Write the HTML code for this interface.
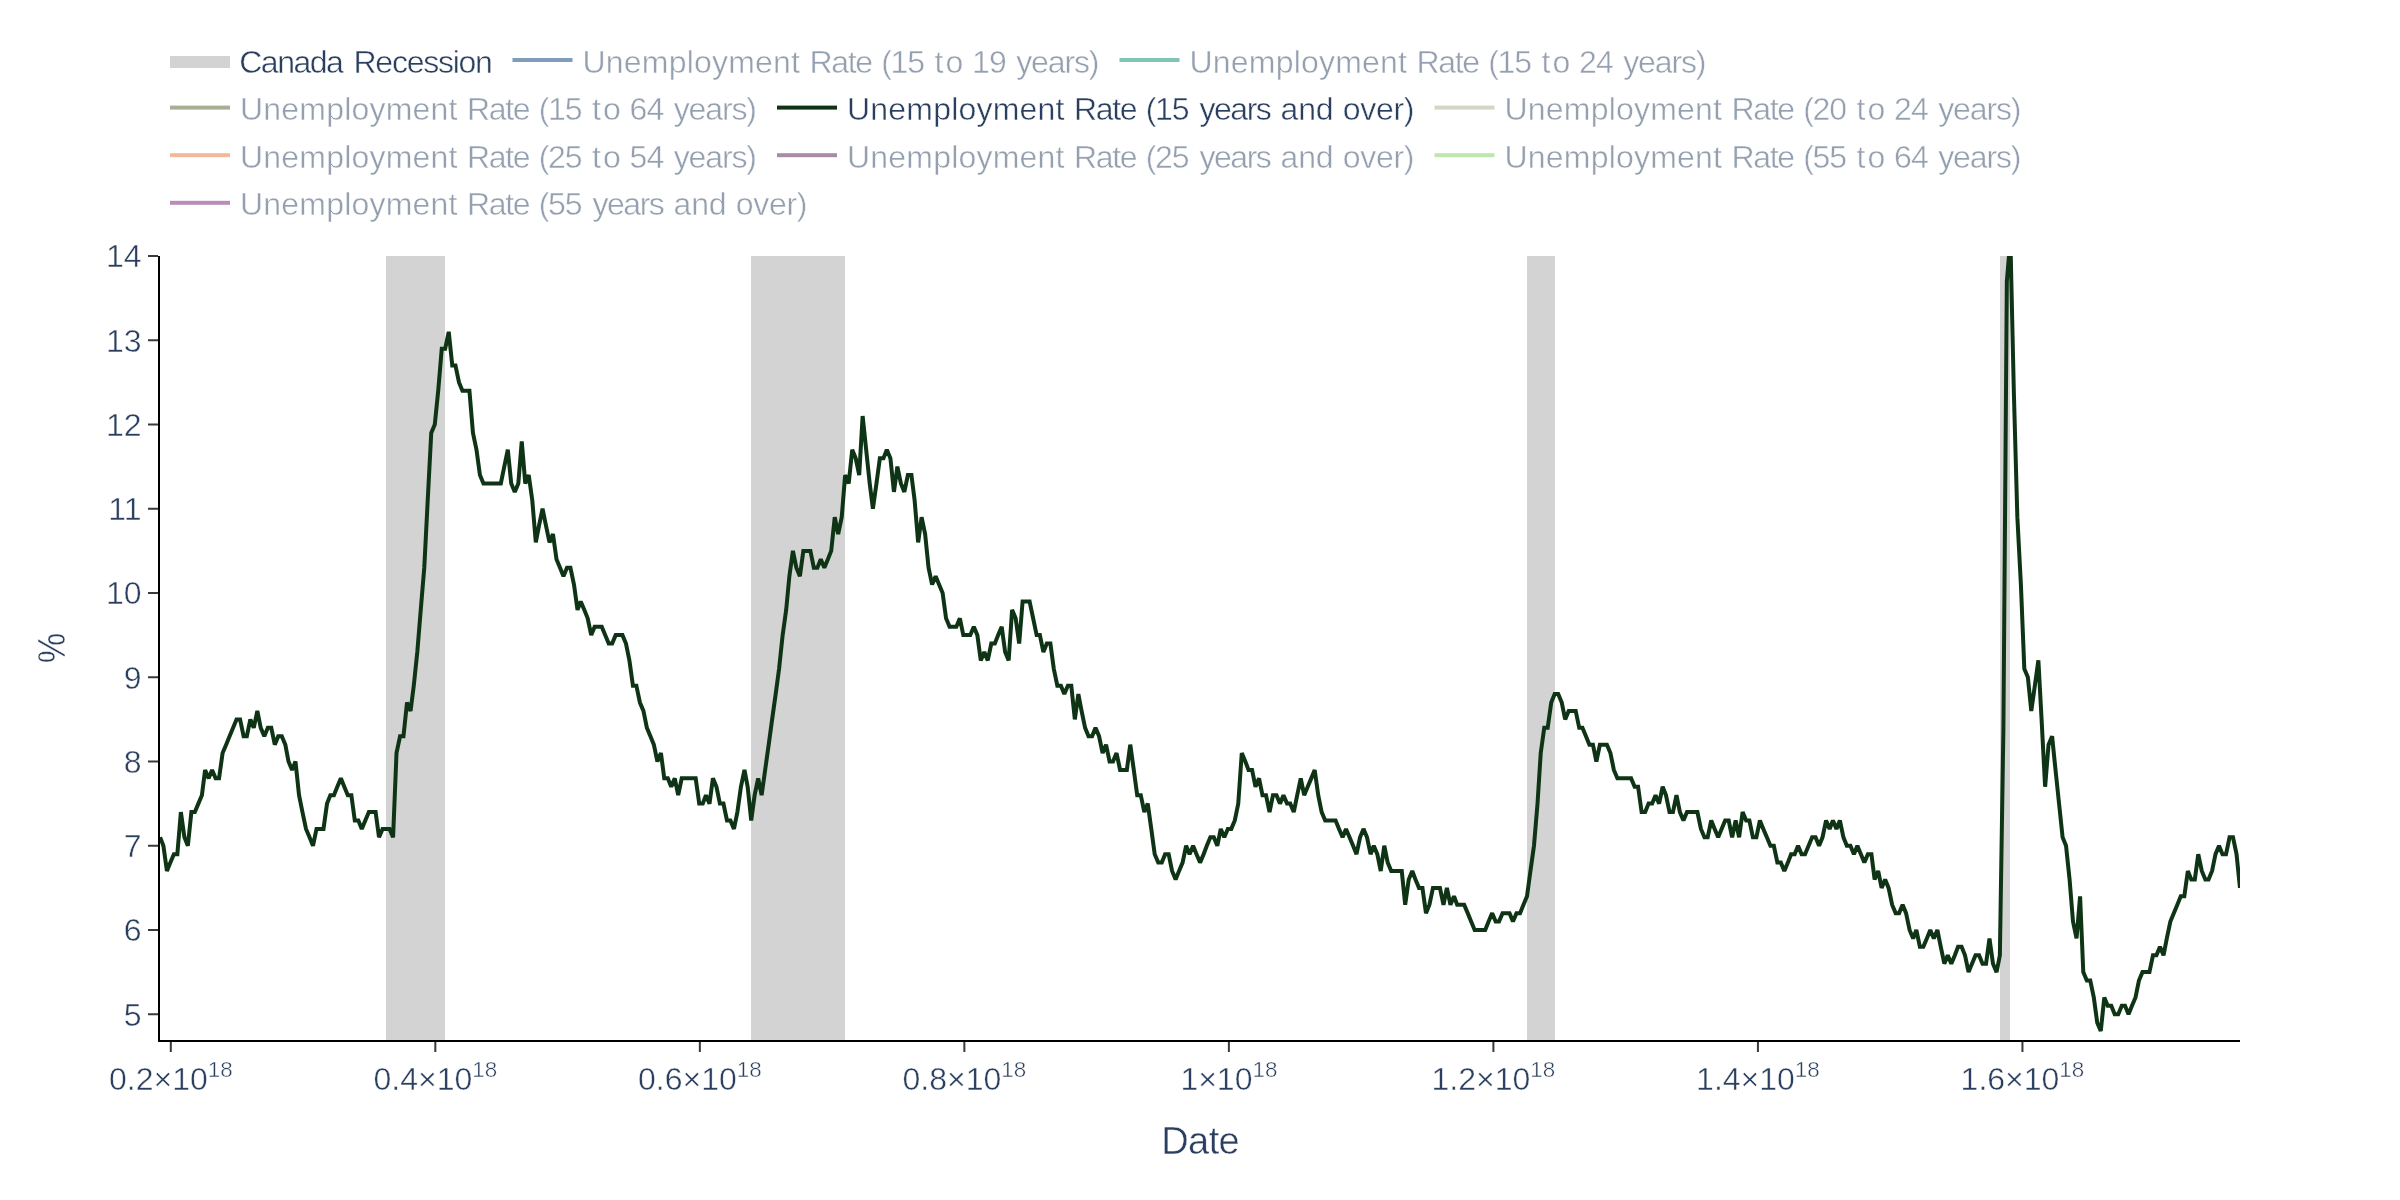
<!DOCTYPE html>
<html><head><meta charset="utf-8"><title>Unemployment Rate</title>
<style>
html,body{margin:0;padding:0;background:#fff;}
body{width:2400px;height:1200px;overflow:hidden;font-family:"Liberation Sans",sans-serif;}
svg{display:block}
text{font-family:"Liberation Sans",sans-serif;stroke:#fff;stroke-width:0.45px;}
svg{will-change:transform;}
</style></head><body>
<svg width="2400" height="1200" viewBox="0 0 2400 1200">
<rect x="0" y="0" width="2400" height="1200" fill="#ffffff"/>
<defs><clipPath id="plotclip"><rect x="160" y="256" width="2080" height="784"/></clipPath></defs>

<g clip-path="url(#plotclip)">
<rect x="386" y="256" width="59" height="784" fill="#d3d3d3"/>
<rect x="751" y="256" width="94" height="784" fill="#d3d3d3"/>
<rect x="1527" y="256" width="28" height="784" fill="#d3d3d3"/>
<rect x="2000" y="256" width="10" height="784" fill="#d3d3d3"/>
<path d="M160.08,837.33L163.39,845.75L166.94,871.02L170.36,862.60L173.91,854.17L177.33,854.17L180.88,812.05L184.42,837.33L187.85,845.75L191.39,812.05L194.82,812.05L198.36,803.62L201.90,795.20L205.10,769.92L208.65,778.35L212.07,769.92L215.62,778.35L219.04,778.35L222.59,753.08L226.13,744.65L229.56,736.22L233.10,727.80L236.53,719.38L240.07,719.38L243.61,736.22L246.81,736.22L250.35,719.38L253.78,727.80L257.33,710.95L260.75,727.80L264.30,736.22L267.84,727.80L271.27,727.80L274.81,744.65L278.24,736.22L281.78,736.22L285.32,744.65L288.52,761.50L292.06,769.92L295.49,761.50L299.04,795.20L302.46,812.05L306.01,828.90L309.55,837.33L312.98,845.75L316.52,828.90L319.95,828.90L323.49,828.90L327.03,803.62L330.35,795.20L333.89,795.20L337.32,786.77L340.86,778.35L344.29,786.77L347.83,795.20L351.37,795.20L354.80,820.48L358.34,820.48L361.77,828.90L365.31,820.48L368.86,812.05L372.06,812.05L375.60,812.05L379.03,837.33L382.57,828.90L386.00,828.90L389.54,828.90L393.08,837.33L396.51,753.08L400.05,736.22L403.48,736.22L407.02,702.53L410.57,710.95L413.76,685.67L417.31,651.97L420.74,609.85L424.28,567.72L427.71,500.33L431.25,432.92L434.79,424.50L438.22,390.80L441.76,348.67L445.19,348.67L448.73,331.83L452.27,365.53L455.47,365.53L459.02,382.38L462.44,390.80L465.99,390.80L469.42,390.80L472.96,432.92L476.50,449.78L479.93,475.05L483.47,483.47L486.90,483.47L490.44,483.47L493.98,483.47L497.30,483.47L500.84,483.47L504.27,466.62L507.81,449.78L511.24,483.47L514.78,491.90L518.32,483.47L521.75,441.35L525.29,483.47L528.72,475.05L532.27,500.33L535.81,542.45L539.01,525.60L542.55,508.75L545.98,525.60L549.52,542.45L552.95,534.03L556.49,559.30L560.03,567.72L563.46,576.15L567.00,567.72L570.43,567.72L573.98,584.58L577.52,609.85L580.72,601.42L584.26,609.85L587.69,618.28L591.23,635.12L594.66,626.70L598.20,626.70L601.74,626.70L605.17,635.12L608.71,643.55L612.14,643.55L615.68,635.12L619.23,635.12L622.43,635.12L625.97,643.55L629.40,660.40L632.94,685.67L636.37,685.67L639.91,702.53L643.45,710.95L646.88,727.80L650.42,736.22L653.85,744.65L657.39,761.50L660.94,753.08L664.25,778.35L667.79,778.35L671.22,786.77L674.76,778.35L678.19,795.20L681.73,778.35L685.28,778.35L688.70,778.35L692.25,778.35L695.68,778.35L699.22,803.62L702.76,803.62L705.96,795.20L709.50,803.62L712.93,778.35L716.47,786.77L719.90,803.62L723.44,803.62L726.99,820.48L730.41,820.48L733.96,828.90L737.38,812.05L740.93,786.77L744.47,769.92L747.67,786.77L751.21,820.48L754.64,795.20L758.18,778.35L761.61,795.20L765.15,769.92L768.70,744.65L772.12,719.38L775.67,694.10L779.09,668.83L782.64,635.12L786.18,609.85L789.38,576.15L792.92,550.88L796.35,567.72L799.89,576.15L803.32,550.88L806.86,550.88L810.41,550.88L813.83,567.72L817.38,567.72L820.80,559.30L824.35,567.72L827.89,559.30L831.20,550.88L834.75,517.17L838.17,534.03L841.72,517.17L845.14,475.05L848.69,483.47L852.23,449.78L855.66,458.20L859.20,475.05L862.63,416.08L866.17,449.78L869.71,483.47L872.91,508.75L876.45,483.47L879.88,458.20L883.43,458.20L886.85,449.78L890.40,458.20L893.94,491.90L897.37,466.62L900.91,483.47L904.34,491.90L907.88,475.05L911.42,475.05L914.62,500.33L918.16,542.45L921.59,517.17L925.13,534.03L928.56,567.72L932.11,584.58L935.65,576.15L939.08,584.58L942.62,593.00L946.05,618.28L949.59,626.70L953.13,626.70L956.33,626.70L959.87,618.28L963.30,635.12L966.84,635.12L970.27,635.12L973.82,626.70L977.36,635.12L980.79,660.40L984.33,651.97L987.76,660.40L991.30,643.55L994.84,643.55L998.16,635.12L1001.70,626.70L1005.13,651.97L1008.67,660.40L1012.10,609.85L1015.64,618.28L1019.18,643.55L1022.61,601.42L1026.15,601.42L1029.58,601.42L1033.12,618.28L1036.66,635.12L1039.86,635.12L1043.41,651.97L1046.84,643.55L1050.38,643.55L1053.81,668.83L1057.35,685.67L1060.89,685.67L1064.32,694.10L1067.86,685.67L1071.29,685.67L1074.83,719.38L1078.37,694.10L1081.57,710.95L1085.12,727.80L1088.54,736.22L1092.09,736.22L1095.52,727.80L1099.06,736.22L1102.60,753.08L1106.03,744.65L1109.57,761.50L1113.00,761.50L1116.54,753.08L1120.08,769.92L1123.28,769.92L1126.83,769.92L1130.25,744.65L1133.80,769.92L1137.22,795.20L1140.77,795.20L1144.31,812.05L1147.74,803.62L1151.28,828.90L1154.71,854.17L1158.25,862.60L1161.79,862.60L1165.11,854.17L1168.65,854.17L1172.08,871.02L1175.62,879.45L1179.05,871.02L1182.59,862.60L1186.13,845.75L1189.56,854.17L1193.10,845.75L1196.53,854.17L1200.07,862.60L1203.62,854.17L1206.82,845.75L1210.36,837.33L1213.79,837.33L1217.33,845.75L1220.76,828.90L1224.30,837.33L1227.84,828.90L1231.27,828.90L1234.81,820.48L1238.24,803.62L1241.78,753.08L1245.33,761.50L1248.53,769.92L1252.07,769.92L1255.50,786.77L1259.04,778.35L1262.47,795.20L1266.01,795.20L1269.55,812.05L1272.98,795.20L1276.52,795.20L1279.95,803.62L1283.49,795.20L1287.04,803.62L1290.24,803.62L1293.78,812.05L1297.21,795.20L1300.75,778.35L1304.18,795.20L1307.72,786.77L1311.26,778.35L1314.69,769.92L1318.23,795.20L1321.66,812.05L1325.20,820.48L1328.75,820.48L1332.06,820.48L1335.60,820.48L1339.03,828.90L1342.57,837.33L1346.00,828.90L1349.54,837.33L1353.09,845.75L1356.51,854.17L1360.06,837.33L1363.48,828.90L1367.03,837.33L1370.57,854.17L1373.77,845.75L1377.31,854.17L1380.74,871.02L1384.28,845.75L1387.71,862.60L1391.25,871.02L1394.80,871.02L1398.22,871.02L1401.77,871.02L1405.19,904.73L1408.74,879.45L1412.28,871.02L1415.48,879.45L1419.02,887.88L1422.45,887.88L1425.99,913.15L1429.42,904.73L1432.96,887.88L1436.50,887.88L1439.93,887.88L1443.48,904.73L1446.90,887.88L1450.45,904.73L1453.99,896.30L1457.19,904.73L1460.73,904.73L1464.16,904.73L1467.70,913.15L1471.13,921.58L1474.67,930.00L1478.21,930.00L1481.64,930.00L1485.19,930.00L1488.61,921.58L1492.16,913.15L1495.70,921.58L1499.01,921.58L1502.55,913.15L1505.98,913.15L1509.53,913.15L1512.95,921.58L1516.50,913.15L1520.04,913.15L1523.47,904.73L1527.01,896.30L1530.44,871.02L1533.98,845.75L1537.52,803.62L1540.72,753.08L1544.26,727.80L1547.69,727.80L1551.23,702.53L1554.66,694.10L1558.21,694.10L1561.75,702.53L1565.18,719.38L1568.72,710.95L1572.15,710.95L1575.69,710.95L1579.23,727.80L1582.43,727.80L1585.97,736.22L1589.40,744.65L1592.94,744.65L1596.37,761.50L1599.91,744.65L1603.46,744.65L1606.89,744.65L1610.43,753.08L1613.86,769.92L1617.40,778.35L1620.94,778.35L1624.14,778.35L1627.68,778.35L1631.11,778.35L1634.65,786.77L1638.08,786.77L1641.62,812.05L1645.17,812.05L1648.59,803.62L1652.14,803.62L1655.57,795.20L1659.11,803.62L1662.65,786.77L1665.96,795.20L1669.51,812.05L1672.94,812.05L1676.48,795.20L1679.91,812.05L1683.45,820.48L1686.99,812.05L1690.42,812.05L1693.96,812.05L1697.39,812.05L1700.93,828.90L1704.47,837.33L1707.67,837.33L1711.22,820.48L1714.64,828.90L1718.19,837.33L1721.62,828.90L1725.16,820.48L1728.70,820.48L1732.13,837.33L1735.67,820.48L1739.10,837.33L1742.64,812.05L1746.18,820.48L1749.38,820.48L1752.93,837.33L1756.35,837.33L1759.90,820.48L1763.32,828.90L1766.87,837.33L1770.41,845.75L1773.84,845.75L1777.38,862.60L1780.81,862.60L1784.35,871.02L1787.89,862.60L1791.09,854.17L1794.64,854.17L1798.06,845.75L1801.61,854.17L1805.03,854.17L1808.58,845.75L1812.12,837.33L1815.55,837.33L1819.09,845.75L1822.52,837.33L1826.06,820.48L1829.60,828.90L1832.92,820.48L1836.46,828.90L1839.89,820.48L1843.43,837.33L1846.86,845.75L1850.40,845.75L1853.94,854.17L1857.37,845.75L1860.91,854.17L1864.34,862.60L1867.88,854.17L1871.43,854.17L1874.63,879.45L1878.17,871.02L1881.60,887.88L1885.14,879.45L1888.57,887.88L1892.11,904.73L1895.65,913.15L1899.08,913.15L1902.62,904.73L1906.05,913.15L1909.59,930.00L1913.14,938.42L1916.34,930.00L1919.88,946.85L1923.31,946.85L1926.85,938.42L1930.28,930.00L1933.82,938.42L1937.36,930.00L1940.79,946.85L1944.33,963.70L1947.76,955.28L1951.30,963.70L1954.85,955.28L1958.05,946.85L1961.59,946.85L1965.02,955.28L1968.56,972.12L1971.99,963.70L1975.53,955.28L1979.07,955.28L1982.50,963.70L1986.04,963.70L1989.47,938.42L1993.01,963.70L1996.56,972.12L1999.87,955.28L2003.41,727.80L2006.84,281.28L2010.38,239.15L2013.81,390.80L2017.35,517.17L2020.90,584.58L2024.32,668.83L2027.87,677.25L2031.29,710.95L2034.84,685.67L2038.38,660.40L2041.58,719.38L2045.12,786.77L2048.55,744.65L2052.09,736.22L2055.52,769.92L2059.06,803.62L2062.60,837.33L2066.03,845.75L2069.58,879.45L2073.00,921.58L2076.55,938.42L2080.09,896.30L2083.29,972.12L2086.83,980.55L2090.26,980.55L2093.80,997.40L2097.23,1022.67L2100.77,1031.10L2104.31,997.40L2107.74,1005.83L2111.28,1005.83L2114.71,1014.25L2118.26,1014.25L2121.80,1005.83L2125.00,1005.83L2128.54,1014.25L2131.97,1005.83L2135.51,997.40L2138.94,980.55L2142.48,972.12L2146.02,972.12L2149.45,972.12L2152.99,955.28L2156.42,955.28L2159.97,946.85L2163.51,955.28L2166.82,938.42L2170.36,921.58L2173.79,913.15L2177.33,904.73L2180.76,896.30L2184.31,896.30L2187.85,871.02L2191.28,879.45L2194.82,879.45L2198.25,854.17L2201.79,871.02L2205.33,879.45L2208.53,879.45L2212.07,871.02L2215.50,854.17L2219.04,845.75L2222.47,854.17L2226.01,854.17L2229.56,837.33L2232.99,837.33L2236.53,854.17L2239.96,887.88" fill="none" stroke="#0f3415" stroke-width="4" stroke-linejoin="miter" stroke-miterlimit="2"/>
</g>
<rect x="158" y="256" width="2" height="786" fill="#000"/>
<rect x="158" y="1040" width="2082" height="2" fill="#000"/>
<rect x="148" y="1013.25" width="10" height="2" fill="#3a3a3a"/>
<text x="141.5" y="1025.55" font-size="32" fill="#2a3f5f" text-anchor="end">5</text>
<rect x="148" y="929.00" width="10" height="2" fill="#3a3a3a"/>
<text x="141.5" y="941.30" font-size="32" fill="#2a3f5f" text-anchor="end">6</text>
<rect x="148" y="844.75" width="10" height="2" fill="#3a3a3a"/>
<text x="141.5" y="857.05" font-size="32" fill="#2a3f5f" text-anchor="end">7</text>
<rect x="148" y="760.50" width="10" height="2" fill="#3a3a3a"/>
<text x="141.5" y="772.80" font-size="32" fill="#2a3f5f" text-anchor="end">8</text>
<rect x="148" y="676.25" width="10" height="2" fill="#3a3a3a"/>
<text x="141.5" y="688.55" font-size="32" fill="#2a3f5f" text-anchor="end">9</text>
<rect x="148" y="592.00" width="10" height="2" fill="#3a3a3a"/>
<text x="141.5" y="604.30" font-size="32" fill="#2a3f5f" text-anchor="end">10</text>
<rect x="148" y="507.75" width="10" height="2" fill="#3a3a3a"/>
<text x="141.5" y="520.05" font-size="32" fill="#2a3f5f" text-anchor="end">11</text>
<rect x="148" y="423.50" width="10" height="2" fill="#3a3a3a"/>
<text x="141.5" y="435.80" font-size="32" fill="#2a3f5f" text-anchor="end">12</text>
<rect x="148" y="339.25" width="10" height="2" fill="#3a3a3a"/>
<text x="141.5" y="351.55" font-size="32" fill="#2a3f5f" text-anchor="end">13</text>
<rect x="148" y="255.00" width="10" height="2" fill="#3a3a3a"/>
<text x="141.5" y="267.30" font-size="32" fill="#2a3f5f" text-anchor="end">14</text>
<rect x="169.80" y="1042" width="2" height="10" fill="#3a3a3a"/>
<text x="170.80" y="1089.7" font-size="32" fill="#2a3f5f" text-anchor="middle">0.2×10<tspan font-size="22.4" dy="-12.5">18</tspan></text>
<rect x="434.32" y="1042" width="2" height="10" fill="#3a3a3a"/>
<text x="435.32" y="1089.7" font-size="32" fill="#2a3f5f" text-anchor="middle">0.4×10<tspan font-size="22.4" dy="-12.5">18</tspan></text>
<rect x="698.84" y="1042" width="2" height="10" fill="#3a3a3a"/>
<text x="699.84" y="1089.7" font-size="32" fill="#2a3f5f" text-anchor="middle">0.6×10<tspan font-size="22.4" dy="-12.5">18</tspan></text>
<rect x="963.36" y="1042" width="2" height="10" fill="#3a3a3a"/>
<text x="964.36" y="1089.7" font-size="32" fill="#2a3f5f" text-anchor="middle">0.8×10<tspan font-size="22.4" dy="-12.5">18</tspan></text>
<rect x="1227.88" y="1042" width="2" height="10" fill="#3a3a3a"/>
<text x="1228.88" y="1089.7" font-size="32" fill="#2a3f5f" text-anchor="middle">1×10<tspan font-size="22.4" dy="-12.5">18</tspan></text>
<rect x="1492.40" y="1042" width="2" height="10" fill="#3a3a3a"/>
<text x="1493.40" y="1089.7" font-size="32" fill="#2a3f5f" text-anchor="middle">1.2×10<tspan font-size="22.4" dy="-12.5">18</tspan></text>
<rect x="1756.92" y="1042" width="2" height="10" fill="#3a3a3a"/>
<text x="1757.92" y="1089.7" font-size="32" fill="#2a3f5f" text-anchor="middle">1.4×10<tspan font-size="22.4" dy="-12.5">18</tspan></text>
<rect x="2021.44" y="1042" width="2" height="10" fill="#3a3a3a"/>
<text x="2022.44" y="1089.7" font-size="32" fill="#2a3f5f" text-anchor="middle">1.6×10<tspan font-size="22.4" dy="-12.5">18</tspan></text>
<text x="1200.2" y="1153.7" font-size="38" fill="#2a3f5f" text-anchor="middle" style="letter-spacing:-0.6px">Date</text>
<text transform="translate(65.3,648) rotate(-90) scale(0.9,1.03)" font-size="38" fill="#2a3f5f" text-anchor="middle">%</text>
<rect x="170" y="56" width="60" height="12" fill="#d3d3d3"/>
<text x="239.25" y="72.5" font-size="32" fill="#2a3f5f" style="letter-spacing:-1.500px">Canada</text>
<text x="353.50" y="72.5" font-size="32" fill="#2a3f5f" style="letter-spacing:-1.250px">Recession</text>
<rect x="512.5" y="58" width="60" height="4" fill="#7f9cbb"/>
<text x="582.50" y="72.5" font-size="32" fill="#949faf" style="letter-spacing:0.205px">Unemployment</text>
<text x="809.50" y="72.5" font-size="32" fill="#949faf" style="letter-spacing:-1.333px">Rate</text>
<text x="881.20" y="72.5" font-size="32" fill="#949faf" style="letter-spacing:-1.250px">(15</text>
<text x="934.60" y="72.5" font-size="32" fill="#949faf" style="letter-spacing:1.900px">to</text>
<text x="972.10" y="72.5" font-size="32" fill="#949faf" style="letter-spacing:-0.850px">19</text>
<text x="1016.25" y="72.5" font-size="32" fill="#949faf" style="letter-spacing:-1.150px">years)</text>
<rect x="1119.5" y="58" width="60" height="4" fill="#80c4b5"/>
<text x="1189.50" y="72.5" font-size="32" fill="#949faf" style="letter-spacing:0.205px">Unemployment</text>
<text x="1416.50" y="72.5" font-size="32" fill="#949faf" style="letter-spacing:-1.333px">Rate</text>
<text x="1488.20" y="72.5" font-size="32" fill="#949faf" style="letter-spacing:-1.250px">(15</text>
<text x="1541.60" y="72.5" font-size="32" fill="#949faf" style="letter-spacing:1.900px">to</text>
<text x="1579.10" y="72.5" font-size="32" fill="#949faf" style="letter-spacing:-0.850px">24</text>
<text x="1623.25" y="72.5" font-size="32" fill="#949faf" style="letter-spacing:-1.150px">years)</text>
<rect x="170" y="105.6" width="60" height="4" fill="#a7af93"/>
<text x="240.00" y="120.0" font-size="32" fill="#949faf" style="letter-spacing:0.205px">Unemployment</text>
<text x="467.00" y="120.0" font-size="32" fill="#949faf" style="letter-spacing:-1.333px">Rate</text>
<text x="538.70" y="120.0" font-size="32" fill="#949faf" style="letter-spacing:-1.250px">(15</text>
<text x="592.10" y="120.0" font-size="32" fill="#949faf" style="letter-spacing:1.900px">to</text>
<text x="629.60" y="120.0" font-size="32" fill="#949faf" style="letter-spacing:-0.850px">64</text>
<text x="673.75" y="120.0" font-size="32" fill="#949faf" style="letter-spacing:-1.150px">years)</text>
<rect x="777" y="105.6" width="60" height="4" fill="#0f3415"/>
<text x="847.00" y="120.0" font-size="32" fill="#2a3f5f" style="letter-spacing:0.205px">Unemployment</text>
<text x="1074.00" y="120.0" font-size="32" fill="#2a3f5f" style="letter-spacing:-1.333px">Rate</text>
<text x="1145.70" y="120.0" font-size="32" fill="#2a3f5f" style="letter-spacing:-1.250px">(15</text>
<text x="1199.40" y="120.0" font-size="32" fill="#2a3f5f" style="letter-spacing:-1.450px">years</text>
<text x="1280.60" y="120.0" font-size="32" fill="#2a3f5f" style="letter-spacing:-0.175px">and</text>
<text x="1342.75" y="120.0" font-size="32" fill="#2a3f5f" style="letter-spacing:-0.312px">over)</text>
<rect x="1434.5" y="105.6" width="60" height="4" fill="#d3d6c4"/>
<text x="1504.50" y="120.0" font-size="32" fill="#949faf" style="letter-spacing:0.205px">Unemployment</text>
<text x="1731.50" y="120.0" font-size="32" fill="#949faf" style="letter-spacing:-1.333px">Rate</text>
<text x="1803.20" y="120.0" font-size="32" fill="#949faf" style="letter-spacing:-1.250px">(20</text>
<text x="1856.60" y="120.0" font-size="32" fill="#949faf" style="letter-spacing:1.900px">to</text>
<text x="1894.10" y="120.0" font-size="32" fill="#949faf" style="letter-spacing:-0.850px">24</text>
<text x="1938.25" y="120.0" font-size="32" fill="#949faf" style="letter-spacing:-1.150px">years)</text>
<rect x="170" y="153.2" width="60" height="4" fill="#f3b79b"/>
<text x="240.00" y="167.6" font-size="32" fill="#949faf" style="letter-spacing:0.205px">Unemployment</text>
<text x="467.00" y="167.6" font-size="32" fill="#949faf" style="letter-spacing:-1.333px">Rate</text>
<text x="538.70" y="167.6" font-size="32" fill="#949faf" style="letter-spacing:-1.250px">(25</text>
<text x="592.10" y="167.6" font-size="32" fill="#949faf" style="letter-spacing:1.900px">to</text>
<text x="629.60" y="167.6" font-size="32" fill="#949faf" style="letter-spacing:-0.850px">54</text>
<text x="673.75" y="167.6" font-size="32" fill="#949faf" style="letter-spacing:-1.150px">years)</text>
<rect x="777" y="153.2" width="60" height="4" fill="#a78ca8"/>
<text x="847.00" y="167.6" font-size="32" fill="#949faf" style="letter-spacing:0.205px">Unemployment</text>
<text x="1074.00" y="167.6" font-size="32" fill="#949faf" style="letter-spacing:-1.333px">Rate</text>
<text x="1145.70" y="167.6" font-size="32" fill="#949faf" style="letter-spacing:-1.250px">(25</text>
<text x="1199.40" y="167.6" font-size="32" fill="#949faf" style="letter-spacing:-1.450px">years</text>
<text x="1280.60" y="167.6" font-size="32" fill="#949faf" style="letter-spacing:-0.175px">and</text>
<text x="1342.75" y="167.6" font-size="32" fill="#949faf" style="letter-spacing:-0.312px">over)</text>
<rect x="1434.5" y="153.2" width="60" height="4" fill="#bde6b1"/>
<text x="1504.50" y="167.6" font-size="32" fill="#949faf" style="letter-spacing:0.205px">Unemployment</text>
<text x="1731.50" y="167.6" font-size="32" fill="#949faf" style="letter-spacing:-1.333px">Rate</text>
<text x="1803.20" y="167.6" font-size="32" fill="#949faf" style="letter-spacing:-1.250px">(55</text>
<text x="1856.60" y="167.6" font-size="32" fill="#949faf" style="letter-spacing:1.900px">to</text>
<text x="1894.10" y="167.6" font-size="32" fill="#949faf" style="letter-spacing:-0.850px">64</text>
<text x="1938.25" y="167.6" font-size="32" fill="#949faf" style="letter-spacing:-1.150px">years)</text>
<rect x="170" y="200.8" width="60" height="4" fill="#b78cb8"/>
<text x="240.00" y="215.2" font-size="32" fill="#949faf" style="letter-spacing:0.205px">Unemployment</text>
<text x="467.00" y="215.2" font-size="32" fill="#949faf" style="letter-spacing:-1.333px">Rate</text>
<text x="538.70" y="215.2" font-size="32" fill="#949faf" style="letter-spacing:-1.250px">(55</text>
<text x="592.40" y="215.2" font-size="32" fill="#949faf" style="letter-spacing:-1.450px">years</text>
<text x="673.60" y="215.2" font-size="32" fill="#949faf" style="letter-spacing:-0.175px">and</text>
<text x="735.75" y="215.2" font-size="32" fill="#949faf" style="letter-spacing:-0.312px">over)</text>
</svg></body></html>
